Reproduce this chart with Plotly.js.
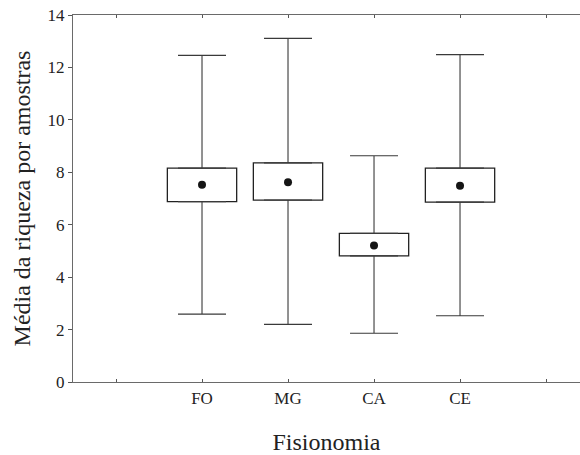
<!DOCTYPE html>
<html>
<head>
<meta charset="utf-8">
<script src="https://cdn.plot.ly/plotly-3.0.1.min.js"></script>
<style>html,body{margin:0;padding:0;background:#fff;}#chart{width:580px;height:455px;}</style>
</head>
<body>
<div id="chart"></div>
<script>
const categories = ['FO', 'MG', 'CA', 'CE'];
const means = [7.52, 7.62, 5.21, 7.49];
const boxLow = [6.88, 6.94, 4.81, 6.86];
const boxHigh = [8.16, 8.36, 5.67, 8.16];
const whiskLow = [2.59, 2.20, 1.86, 2.53];
const whiskHigh = [12.46, 13.11, 8.63, 12.49];
const yTicks = [0, 2, 4, 6, 8, 10, 12, 14];

const positions = categories.map((c, i) => i + 1);
const tickVals = [0].concat(positions, [categories.length + 1]);
const tickText = [''].concat(categories, ['']);
const zeros = categories.map(() => 0);

const font = 'Liberation Serif';

const upperWhisker = {
  type: 'scatter',
  mode: 'markers',
  x: positions,
  y: boxHigh,
  marker: {size: 0.1, color: 'rgba(0,0,0,0)'},
  error_y: {
    type: 'data', symmetric: false,
    array: whiskHigh.map((v, i) => v - boxHigh[i]),
    arrayminus: zeros,
    width: 24, thickness: 1.1, color: '#3a3a3a'
  },
  hoverinfo: 'skip', showlegend: false
};

const lowerWhisker = {
  type: 'scatter',
  mode: 'markers',
  x: positions,
  y: boxLow,
  marker: {size: 0.1, color: 'rgba(0,0,0,0)'},
  error_y: {
    type: 'data', symmetric: false,
    array: zeros,
    arrayminus: boxLow.map((v, i) => v - whiskLow[i]),
    width: 24, thickness: 1.1, color: '#3a3a3a'
  },
  hoverinfo: 'skip', showlegend: false
};

const boxTrace = {
  type: 'bar',
  x: positions,
  base: boxLow,
  y: boxHigh.map((v, i) => v - boxLow[i]),
  width: 0.806,
  marker: {color: '#ffffff', line: {color: '#222222', width: 1.3}},
  hoverinfo: 'skip', showlegend: false
};

const meanTrace = {
  type: 'scatter',
  mode: 'markers',
  x: positions,
  y: means,
  marker: {color: '#151515', size: 8},
  hoverinfo: 'skip', showlegend: false
};

const layout = {
  width: 580,
  height: 455,
  margin: {l: 73, r: 0, t: 15, b: 73},
  paper_bgcolor: '#ffffff',
  plot_bgcolor: '#ffffff',
  showlegend: false,
  font: {family: font, color: '#222222', size: 17},
  xaxis: {
    range: [-0.5, 5.395],
    tickvals: tickVals,
    ticktext: tickText,
    ticks: 'inside',
    ticklen: 3,
    tickcolor: '#555555',
    showline: true,
    linecolor: '#6a6a6a',
    linewidth: 1.2,
    mirror: 'allticks',
    showgrid: false,
    zeroline: false,
    tickfont: {family: font, size: 17, color: '#222222'},
    title: {text: 'Fisionomia', font: {family: font, size: 24, color: '#222222'}, standoff: 27}
  },
  yaxis: {
    range: [0, 14],
    tickvals: yTicks,
    ticks: 'outside',
    ticklen: 4,
    tickcolor: '#555555',
    showline: true,
    linecolor: '#6a6a6a',
    linewidth: 1.2,
    showgrid: false,
    zeroline: false,
    tickfont: {family: font, size: 17, color: '#222222'},
    title: {text: 'Média da riqueza por amostras', font: {family: font, size: 24, color: '#222222'}, standoff: 10}
  }
};

Plotly.newPlot('chart', [boxTrace, upperWhisker, lowerWhisker, meanTrace], layout, {staticPlot: true, displayModeBar: false});
</script>
</body>
</html>
